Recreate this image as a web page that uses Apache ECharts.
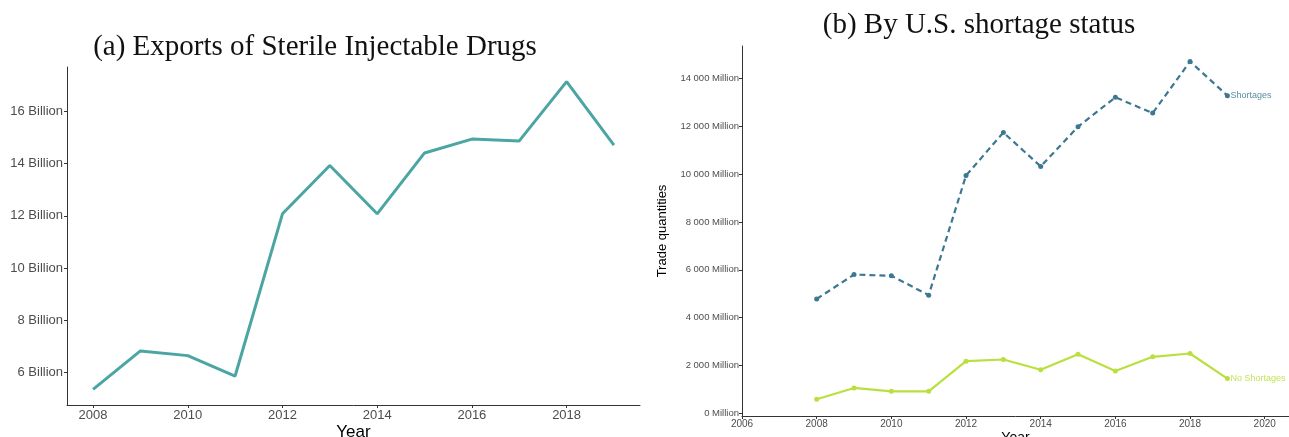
<!DOCTYPE html>
<html>
<head>
<meta charset="utf-8">
<script src="https://cdn.jsdelivr.net/npm/echarts@6/dist/echarts.min.js"></script>
<style>
html,body{margin:0;padding:0;background:#fff;}
#chart{width:1289px;height:437px;}
</style>
</head>
<body>
<div id="chart"></div>
<script>
// Panel (a): exports of sterile injectable drugs (billions)
const yearsA = [2008, 2009, 2010, 2011, 2012, 2013, 2014, 2015, 2016, 2017, 2018, 2019];
const exportsBillion = [5.36, 6.83, 6.65, 5.87, 12.08, 13.93, 12.08, 14.41, 14.94, 14.87, 17.14, 14.71];
const ticksXA = [2008, 2010, 2012, 2014, 2016, 2018];
const ticksYA = [6, 8, 10, 12, 14, 16];

// Panel (b): by U.S. shortage status (millions)
const yearsB = [2008, 2009, 2010, 2011, 2012, 2013, 2014, 2015, 2016, 2017, 2018, 2019];
const shortagesMillion = [4780, 5800, 5750, 4940, 9940, 11740, 10320, 11980, 13210, 12550, 14710, 13280];
const noShortagesMillion = [590, 1060, 920, 920, 2180, 2250, 1820, 2470, 1770, 2360, 2500, 1450];
const ticksXB = [2006, 2008, 2010, 2012, 2014, 2016, 2018, 2020];
const ticksYB = [0, 2000, 4000, 6000, 8000, 10000, 12000, 14000];

const sans = 'Liberation Sans';
const serif = 'Liberation Serif';
const tickGray = '#4d4d4d';

function fmtMillion(v) {
  return String(v).replace(/\B(?=(\d{3})+(?!\d))/g, ' ') + ' Million';
}

const chart = echarts.init(document.getElementById('chart'), null, {renderer: 'canvas'});
chart.setOption({
  animation: false,
  backgroundColor: '#ffffff',
  title: [
    {text: '(a) Exports of Sterile Injectable Drugs', left: 310, top: 28, textAlign: 'center',
     textStyle: {fontFamily: serif, fontSize: 29, fontWeight: 'normal', color: '#111'}},
    {text: '(b) By U.S. shortage status', left: 974, top: 6, textAlign: 'center',
     textStyle: {fontFamily: serif, fontSize: 29, fontWeight: 'normal', color: '#111'}}
  ],
  grid: [
    {left: 67, top: 67, width: 573, height: 338, outerBoundsMode: 'none', containLabel: false},
    {left: 742, top: 46, width: 547, height: 370, outerBoundsMode: 'none', containLabel: false}
  ],
  xAxis: [
    {type: 'value', gridIndex: 0, min: 2007.45, max: 2019.55,
     name: 'Year', nameLocation: 'middle', nameGap: 19, nameMoveOverlap: false,
     nameTextStyle: {fontFamily: sans, fontSize: 17, color: '#000'},
     axisLine: {show: true, onZero: false, lineStyle: {color: '#333', width: 1}},
     axisTick: {show: true, length: 3, customValues: ticksXA, lineStyle: {color: '#333'}},
     axisLabel: {customValues: ticksXA, fontFamily: sans, fontSize: 13, color: tickGray, margin: 4,
                 formatter: v => String(v)},
     splitLine: {show: false}},
    {type: 'value', gridIndex: 1, min: 2006, max: 2020.65,
     name: 'Year', nameLocation: 'middle', nameGap: 15, nameMoveOverlap: false,
     nameTextStyle: {fontFamily: sans, fontSize: 14, color: '#000'},
     axisLine: {show: true, onZero: false, lineStyle: {color: '#333', width: 1}},
     axisTick: {show: true, length: 3, customValues: ticksXB, lineStyle: {color: '#333'}},
     axisLabel: {customValues: ticksXB, fontFamily: sans, fontSize: 10, color: tickGray, margin: 3,
                 showMinLabel: true, showMaxLabel: true, formatter: v => String(v)},
     splitLine: {show: false}}
  ],
  yAxis: [
    {type: 'value', gridIndex: 0, min: 4.76, max: 17.7,
     axisLine: {show: true, onZero: false, lineStyle: {color: '#333', width: 1}},
     axisTick: {show: true, length: 3, customValues: ticksYA, lineStyle: {color: '#333'}},
     axisLabel: {customValues: ticksYA, fontFamily: sans, fontSize: 13, color: tickGray, margin: 4,
                 formatter: v => v + ' Billion'},
     splitLine: {show: false}},
    {type: 'value', gridIndex: 1, min: -113, max: 15355,
     name: 'Trade quantities', nameLocation: 'middle', nameGap: 73, nameRotate: 90, nameMoveOverlap: false,
     nameTextStyle: {fontFamily: sans, fontSize: 13, color: '#000'},
     axisLine: {show: true, onZero: false, lineStyle: {color: '#333', width: 1}},
     axisTick: {show: true, length: 3, customValues: ticksYB, lineStyle: {color: '#333'}},
     axisLabel: {customValues: ticksYB, fontFamily: sans, fontSize: 9.5, color: tickGray, margin: 3,
                 formatter: v => fmtMillion(v)},
     splitLine: {show: false}}
  ],
  series: [
    {name: 'Exports', type: 'line', xAxisIndex: 0, yAxisIndex: 0,
     data: yearsA.map((y, i) => [y, exportsBillion[i]]),
     showSymbol: false, lineStyle: {color: '#4aa5a3', width: 3}},
    {name: 'Shortages', type: 'line', xAxisIndex: 1, yAxisIndex: 1,
     data: yearsB.map((y, i) => [y, shortagesMillion[i]]),
     symbol: 'circle', symbolSize: 5, itemStyle: {color: '#3d7891'},
     lineStyle: {color: '#3d7891', width: 2.2, type: [6, 4]},
     endLabel: {show: true, formatter: 'Shortages', fontFamily: sans, fontSize: 9, color: '#5b8ea3', distance: 3}},
    {name: 'No Shortages', type: 'line', xAxisIndex: 1, yAxisIndex: 1,
     data: yearsB.map((y, i) => [y, noShortagesMillion[i]]),
     symbol: 'circle', symbolSize: 5, itemStyle: {color: '#b9e03e'},
     lineStyle: {color: '#b9e03e', width: 2.2},
     endLabel: {show: true, formatter: 'No Shortages', fontFamily: sans, fontSize: 9, color: '#c3e45a', distance: 3}}
  ]
});
</script>
</body>
</html>
